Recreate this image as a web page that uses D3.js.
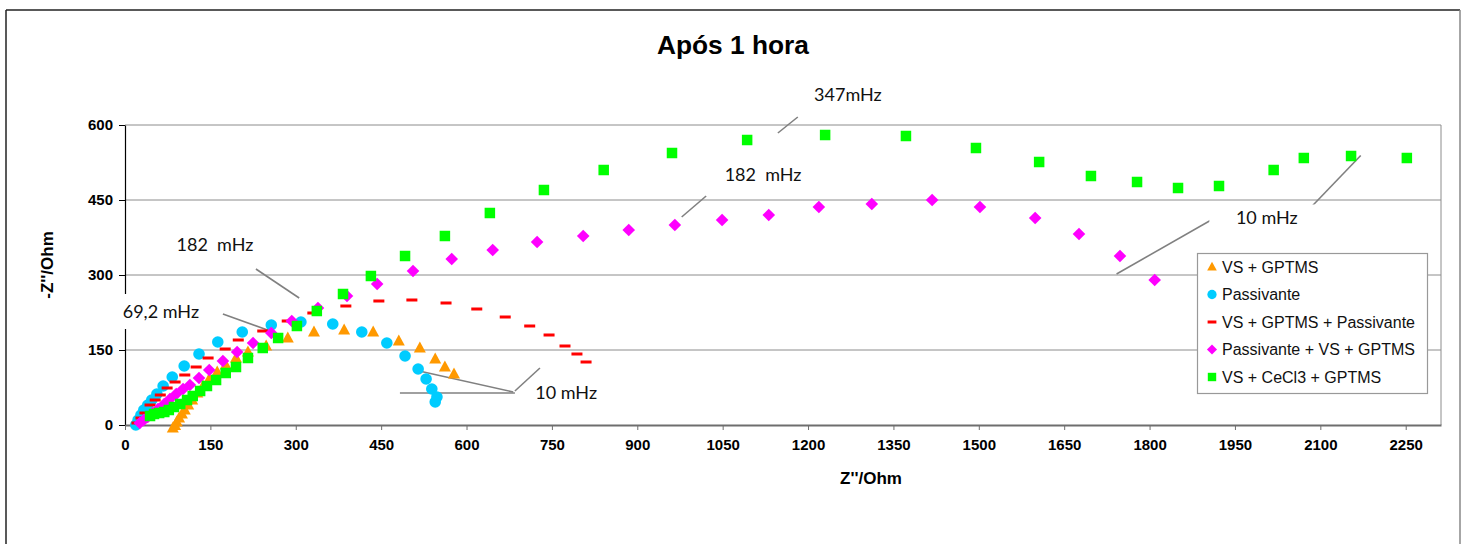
<!DOCTYPE html>
<html><head><meta charset="utf-8">
<script src="https://cdn.jsdelivr.net/npm/d3@7"></script>
<style>body{margin:0;background:#fff}</style>
</head><body><svg id="c" width="1461" height="544"></svg>
<script>
// ---------- data ----------
const seriesNames = ["VS + GPTMS","Passivante","VS + GPTMS + Passivante","Passivante + VS + GPTMS","VS + CeCl3 + GPTMS"];
const seriesColors = ["#FF9900","#00CCFF","#FF0000","#FF00FF","#00FF00"];

const vsGptmsX = [84,88,91,95,100,105,111,118,127,137,148,162,177,195,216,248,286,332,385,436,481,518,545,562,578];
const vsGptmsY = [-6,-1,6,14,22,30,40,50,64,78,92,106,120,134,146,158,174,186,190,186,168,154,132,116,102];

const passX = [19,23,28,33,40,47,56,67,83,104,130,163,206,257,309,365,416,460,492,515,529,539,548,545];
const passY = [0,10,20,30,40,50,62,78,96,118,142,166,186,200,206,202,186,164,138,112,92,72,56,46];

const vsGptmsPassX = [21,28,35,44,53,62,74,88,105,125,146,176,199,242,285,330,388,446,504,564,618,668,711,745,773,794,810];
const vsGptmsPassY = [4,14,24,40,50,60,74,86,100,116,134,152,170,188,208,224,238,248,250,244,232,216,198,180,158,142,126];

const passVsGptmsX = [26,33,40,49,58,69,79,90,102,114,130,148,172,197,225,257,293,339,390,443,506,574,646,724,805,885,966,1049,1131,1219,1312,1418,1502,1599,1676,1748,1809];
const passVsGptmsY = [4,10,16,24,32,42,52,62,72,80,94,110,128,146,164,184,208,234,258,282,308,332,350,366,378,390,400,410,420,436,442,450,436,414,382,338,290];

const cecl3X = [44,51,60,69,77,86,97,109,119,132,144,160,177,195,216,242,269,302,337,383,432,492,562,641,736,841,961,1093,1230,1372,1495,1606,1697,1778,1850,1922,2018,2071,2154,2252];
const cecl3Y = [18,22,24,26,30,36,42,50,58,68,78,90,104,116,134,154,174,198,228,262,298,338,378,424,470,510,544,570,580,578,554,526,498,486,474,478,510,534,538,534];

const xTickValues = [0,150,300,450,600,750,900,1050,1200,1350,1500,1650,1800,1950,2100,2250];
const yTickValues = [0,150,300,450,600];

const titleText = "Após 1 hora";
const xTitle = "Z''/Ohm";
const yTitle = "-Z''/Ohm";

// annotations (data units)
const annLabels = ["347mHz","182  mHz","10 mHz","182  mHz","69,2 mHz","10 mHz"];
const annLabelPos = [[1270,660],[1121,500],[2006,414],[158,360],[63,227],[775,64]];
const annBoxed = [false,false,true,false,true,false];
const annLines = [
  [[1147,584],[1182,616]],
  [[978,416],[1021,458]],
  [[1742,302],[1919,417]],
  [[2068,417],[2171,539]],
  [[230,312],[306,254]],
  [[172,222],[260,186]],
  [[509,110],[682,66]],
  [[483,64],[685,64]],
  [[685,68],[729,114]]
];

// ---------- drawing ----------
const svg = d3.select('#c');
const x = d3.scaleLinear().domain([0,2312]).range([125,1441]);
const y = d3.scaleLinear().domain([0,600]).range([425,125]);

// outer border
svg.append('line').attr('x1',6).attr('y1',10).attr('x2',1460).attr('y2',10).attr('stroke','#222').attr('stroke-width',1.5);
svg.append('line').attr('x1',6).attr('y1',10).attr('x2',6).attr('y2',544).attr('stroke','#222').attr('stroke-width',1.5);
svg.append('line').attr('x1',1460).attr('y1',10).attr('x2',1460).attr('y2',544).attr('stroke','#888').attr('stroke-width',1.5);

// title
svg.append('text').attr('x',733).attr('y',54).attr('text-anchor','middle')
  .attr('font-family','Liberation Sans, Arial, sans-serif').attr('font-weight','bold')
  .attr('font-size',25).attr('textLength',152).attr('lengthAdjust','spacingAndGlyphs').text(titleText);

// grid lines
svg.append('g').selectAll('line').data(yTickValues.filter(v=>v>0)).join('line')
  .attr('x1',x(0)).attr('x2',x(2312)).attr('y1',d=>y(d)).attr('y2',d=>y(d))
  .attr('stroke','#8c8c8c').attr('stroke-width',1);
// right border of plot
svg.append('line').attr('x1',x(2312)).attr('x2',x(2312)).attr('y1',y(600)).attr('y2',y(0))
  .attr('stroke','#8c8c8c').attr('stroke-width',1);

const fmt = d3.format('d');
// axes
const yAxis = svg.append('g').attr('transform',`translate(${x(0)},0)`)
  .call(d3.axisLeft(y).tickValues(yTickValues).tickFormat(fmt).tickSize(6).tickSizeOuter(0).tickPadding(6));
yAxis.select('.domain').attr('stroke','#000').attr('stroke-width',1.2);
yAxis.selectAll('.tick line').attr('stroke','#000');
yAxis.selectAll('text').attr('font-family','Liberation Sans, Arial, sans-serif').attr('font-weight','bold').attr('font-size',15).attr('fill','#000');

const xAxis = svg.append('g').attr('transform',`translate(0,${y(0)})`)
  .call(d3.axisBottom(x).tickValues(xTickValues).tickFormat(fmt).tickSize(5).tickSizeOuter(0).tickPadding(9));
xAxis.select('.domain').attr('stroke','#6e6e6e').attr('stroke-width',2);
xAxis.selectAll('.tick line').attr('stroke','#6e6e6e');
xAxis.selectAll('text').attr('font-family','Liberation Sans, Arial, sans-serif').attr('font-weight','bold').attr('font-size',15).attr('fill','#000');

// axis titles
svg.append('text').attr('x',871).attr('y',484).attr('text-anchor','middle')
  .attr('font-family','Liberation Sans, Arial, sans-serif').attr('font-weight','bold').attr('font-size',17).text(xTitle);
svg.append('text').attr('transform','translate(53,265) rotate(-90)').attr('text-anchor','middle')
  .attr('font-family','Liberation Sans, Arial, sans-serif').attr('font-weight','bold').attr('font-size',17).text(yTitle);

// annotation lines
svg.append('g').selectAll('line').data(annLines).join('line')
  .attr('x1',d=>x(d[0][0])).attr('y1',d=>y(d[0][1])).attr('x2',d=>x(d[1][0])).attr('y2',d=>y(d[1][1]))
  .attr('stroke','#808080').attr('stroke-width',1.6);

// annotation labels
const annG = svg.append('g');
annLabels.forEach((t,i)=>{
  const cx = x(annLabelPos[i][0]), cy = y(annLabelPos[i][1]);
  if (annBoxed[i]) {
    const w = i===2 ? 115 : 88, h = i===2 ? 27 : 35;
    annG.append('rect').attr('x',cx-w/2).attr('y',cy-h/2).attr('width',w).attr('height',h).attr('fill','#fff');
  }
  annG.append('text').attr('x',cx).attr('y',cy).attr('dy','0.35em').attr('text-anchor','middle')
    .attr('font-family','Lato, Carlito, sans-serif').attr('font-size',18).attr('fill','#111')
    .style('white-space','pre').attr('xml:space','preserve').text(t);
});

// markers
const shapes = ['triangle','circle','dash','diamond','square'];
function drawMarker(g, shape, color, px, py, s) {
  s = s || 1;
  if (shape==='triangle') {
    const w = 12*s, h = 11*s;
    g.append('path').attr('d',`M${px},${py-h*0.6}L${px+w/2},${py+h*0.4}L${px-w/2},${py+h*0.4}Z`).attr('fill',color);
  } else if (shape==='circle') {
    g.append('circle').attr('cx',px).attr('cy',py).attr('r',5.8*s).attr('fill',color);
  } else if (shape==='dash') {
    g.append('rect').attr('x',px-5.5*s).attr('y',py-1.5).attr('width',11*s).attr('height',3).attr('fill',color);
  } else if (shape==='diamond') {
    const r = 6.3*s;
    g.append('path').attr('d',`M${px},${py-r}L${px+r},${py}L${px},${py+r}L${px-r},${py}Z`).attr('fill',color);
  } else {
    const a = 10.5*s;
    g.append('rect').attr('x',px-a/2).attr('y',py-a/2).attr('width',a).attr('height',a).attr('fill',color);
  }
}
const allX = [vsGptmsX, passX, vsGptmsPassX, passVsGptmsX, cecl3X];
const allY = [vsGptmsY, passY, vsGptmsPassY, passVsGptmsY, cecl3Y];
allX.forEach((xs,si)=>{
  const g = svg.append('g');
  xs.forEach((xv,i)=> drawMarker(g, shapes[si], seriesColors[si], x(xv), y(allY[si][i])));
});

// legend
const lg = svg.append('g');
lg.append('rect').attr('x',1197.5).attr('y',253.5).attr('width',230).attr('height',140)
  .attr('fill','#fff').attr('stroke','#999').attr('stroke-width',1.2);
seriesNames.forEach((n,i)=>{
  const cy = 267 + i*27.5;
  drawMarker(lg, shapes[i], seriesColors[i], 1212, cy, i===2?0.8:0.8);
  lg.append('text').attr('x',1222).attr('y',cy).attr('dy','0.36em')
    .attr('font-family','Liberation Sans, Arial, sans-serif').attr('font-size',16).attr('fill','#111').text(n);
});
</script>
</body></html>
